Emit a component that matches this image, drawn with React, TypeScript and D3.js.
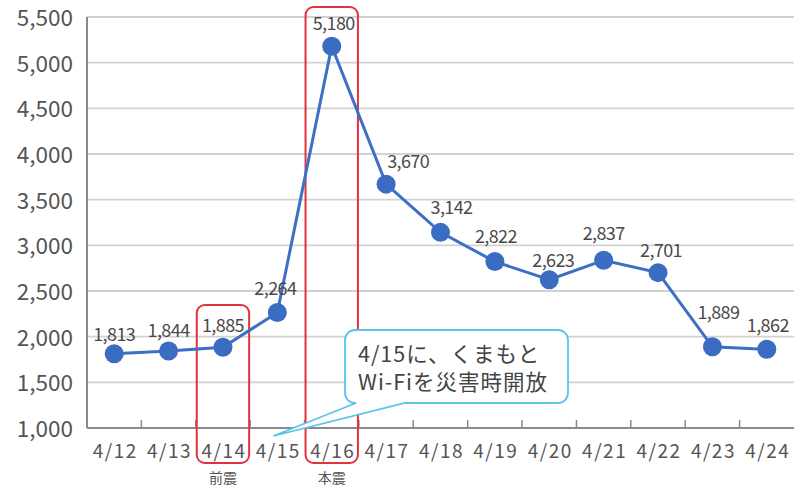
import React, { useEffect, useRef } from 'react';
import * as d3 from 'd3';

const days = ['4/12', '4/13', '4/14', '4/15', '4/16', '4/17', '4/18', '4/19', '4/20', '4/21', '4/22', '4/23', '4/24'];
const users = [1813, 1844, 1885, 2264, 5180, 3670, 3142, 2822, 2623, 2837, 2701, 1889, 1862];
const yTicks = [1000, 1500, 2000, 2500, 3000, 3500, 4000, 4500, 5000, 5500];
const quakes = [
  { day: '4/14', label: '前震' },
  { day: '4/16', label: '本震' }
];
const noteLines = ['4/15に、くまもと', 'Wi-Fiを災害時開放'];
const noteDay = '4/15';

const W = 796;
const H = 489;
const FONT = '"Noto Sans CJK JP", "Noto Sans", sans-serif';

const App: React.FC = () => {
  const svgRef = useRef<SVGSVGElement>(null);

  useEffect(() => {
    if (!svgRef.current) return;
    const svg = d3.select(svgRef.current);
    svg.selectAll('*').remove();

    const margin = { top: 17, right: 2, bottom: 61, left: 87 };
    const x = d3.scaleBand().domain(days).range([margin.left, W - margin.right]);
    const y = d3.scaleLinear().domain([1000, 5500]).range([H - margin.bottom, margin.top]);
    const cx = (d: string) => (x(d) || 0) + x.bandwidth() / 2;
    const fmt = d3.format(',');

    // grid
    svg.append('g')
      .selectAll('line')
      .data(yTicks.slice(1))
      .join('line')
      .attr('x1', margin.left)
      .attr('x2', W - margin.right)
      .attr('y1', d => y(d))
      .attr('y2', d => y(d))
      .attr('stroke', '#d2d2d2')
      .attr('stroke-width', 1.8);

    // axes lines
    svg.append('line')
      .attr('x1', margin.left).attr('x2', margin.left)
      .attr('y1', y(5500)).attr('y2', y(1000))
      .attr('stroke', '#8a8a8a').attr('stroke-width', 2);
    svg.append('line')
      .attr('x1', margin.left).attr('x2', W - margin.right)
      .attr('y1', y(1000)).attr('y2', y(1000))
      .attr('stroke', '#8a8a8a').attr('stroke-width', 2);

    // x ticks (upward, at band boundaries)
    svg.append('g')
      .selectAll('line')
      .data(days.slice(1))
      .join('line')
      .attr('x1', d => x(d) || 0)
      .attr('x2', d => x(d) || 0)
      .attr('y1', y(1000))
      .attr('y2', y(1000) - 8)
      .attr('stroke', '#8a8a8a')
      .attr('stroke-width', 1.5);

    // y labels
    svg.append('g')
      .selectAll('text')
      .data(yTicks)
      .join('text')
      .attr('x', 73)
      .attr('y', d => y(d) + 1)
      .attr('dy', '0.36em')
      .attr('text-anchor', 'end')
      .attr('font-family', FONT)
      .attr('font-size', 22.5)
      .attr('fill', '#555')
      .text(d => fmt(d));

    // x labels
    svg.append('g')
      .selectAll('text')
      .data(days)
      .join('text')
      .attr('x', d => cx(d) + 1)
      .attr('y', y(1000) + 30)
      .attr('text-anchor', 'middle')
      .attr('font-family', FONT)
      .attr('font-size', 19)
      .attr('letter-spacing', 1.5)
      .attr('fill', '#555')
      .text(d => d);

    // quake boxes
    quakes.forEach((q, i) => {
      const bx = (x(q.day) || 0) + 1;
      const top = i === 0 ? 305 : 7;
      svg.append('rect')
        .attr('x', bx)
        .attr('y', top)
        .attr('width', x.bandwidth() - 2)
        .attr('height', 463 - top)
        .attr('rx', 8)
        .attr('fill', 'none')
        .attr('stroke', '#e2323f')
        .attr('stroke-width', 2);
      svg.append('text')
        .attr('x', cx(q.day))
        .attr('y', 483)
        .attr('text-anchor', 'middle')
        .attr('font-family', FONT)
        .attr('font-size', 14)
        .attr('fill', '#555')
        .text(q.label);
    });

    // line + markers
    const line = d3.line<number>()
      .x((_, i) => cx(days[i]))
      .y(d => y(d));
    svg.append('path')
      .datum(users)
      .attr('d', line)
      .attr('fill', 'none')
      .attr('stroke', '#3d6fc4')
      .attr('stroke-width', 3);
    svg.append('g')
      .selectAll('circle')
      .data(users)
      .join('circle')
      .attr('cx', (_, i) => cx(days[i]))
      .attr('cy', d => y(d))
      .attr('r', 9.5)
      .attr('fill', '#3a6cc2');

    // value labels (hand-placed offsets like the original)
    const dxs = [0, 0, 0, -2, 2, 22, 11, 1, 4, 0, 3, 6, 1];
    const dys = [-13, -14, -15, -18, -16, -16, -18, -19, -13, -20, -16, -28, -17];
    svg.append('g')
      .selectAll('text')
      .data(users)
      .join('text')
      .attr('x', (_, i) => cx(days[i]) + dxs[i])
      .attr('y', (d, i) => y(d) + dys[i])
      .attr('text-anchor', 'middle')
      .attr('font-family', FONT)
      .attr('font-size', 18)
      .attr('letter-spacing', -0.6)
      .attr('fill', '#4a4a4a')
      .text(d => fmt(d));

    // callout
    const bx0 = 345, by0 = 330, bx1 = 568, by1 = 403;
    const tipX = cx(noteDay) - 4, tipY = y(1000) + 8;
    const r = 10;
    const p = d3.path();
    p.moveTo(bx0 + r, by0);
    p.lineTo(bx1 - r, by0);
    p.arcTo(bx1, by0, bx1, by0 + r, r);
    p.lineTo(bx1, by1 - r);
    p.arcTo(bx1, by1, bx1 - r, by1, r);
    p.lineTo(405, by1);
    p.lineTo(tipX, tipY);
    p.lineTo(356, by1);
    p.lineTo(bx0 + r, by1);
    p.arcTo(bx0, by1, bx0, by1 - r, r);
    p.lineTo(bx0, by0 + r);
    p.arcTo(bx0, by0, bx0 + r, by0, r);
    p.closePath();
    svg.append('path')
      .attr('d', p.toString())
      .attr('fill', '#fff')
      .attr('stroke', '#5cc3ec')
      .attr('stroke-width', 1.8);
    noteLines.forEach((t, i) => {
      svg.append('text')
        .attr('x', 358)
        .attr('y', 362 + i * 28)
        .attr('font-family', FONT)
        .attr('font-size', 21.5)
        .attr('letter-spacing', 1)
        .attr('fill', '#444')
        .text(t);
    });
  }, []);

  return (
    <svg
      ref={svgRef}
      width={W}
      height={H}
      viewBox={`0 0 ${W} ${H}`}
      style={{ position: 'absolute', left: 0, top: 0, background: '#fff' }}
    />
  );
};

export default App;
